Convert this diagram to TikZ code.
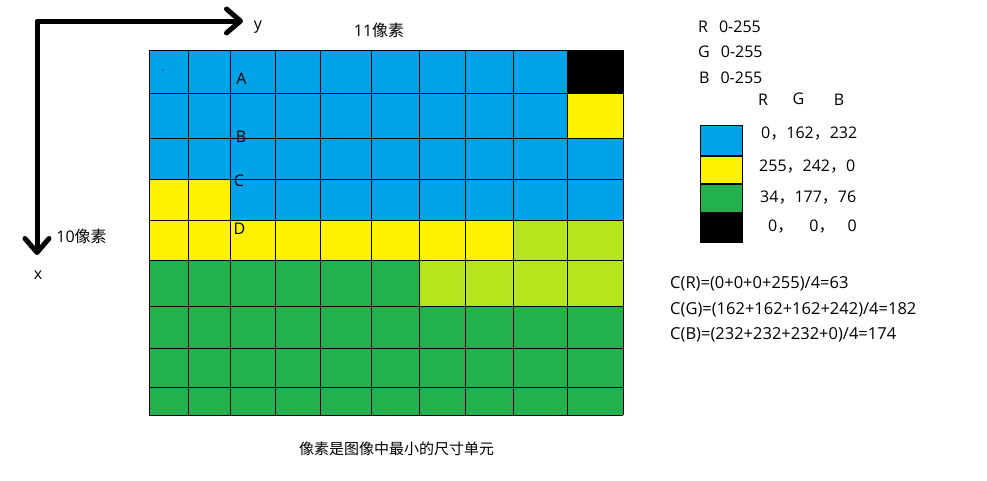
\documentclass[tikz,border=0pt]{standalone}
\usepackage{fontspec}
\setmainfont{Open Sans}
\newfontfamily\cjk{Noto Sans CJK SC}
\usetikzlibrary{arrows.meta,positioning}

\definecolor{pixblue}{RGB}{0,162,232}
\definecolor{pixyellow}{RGB}{255,242,0}
\definecolor{pixgreen}{RGB}{34,177,76}
\definecolor{pixlime}{RGB}{181,230,29}

\begin{document}
\begin{tikzpicture}[
  x=1pt, y=-1pt,
  every node/.style={inner sep=0pt, font=\fontsize{16}{18}\selectfont},
  axis/.style={line width=5pt, line join=round, line cap=round,
    {Straight Barb[length=14pt,width=24pt,round]}-{Straight Barb[length=14pt,width=24pt,round]}},
  gridline/.style={line width=0.9pt},
  swatch/.style={draw, line width=0.9pt, minimum width=42pt},
  txt/.style={anchor=west},
  formula/.style={anchor=west, font=\fontsize{16.5}{18}\selectfont}
]
\useasboundingbox (0,0) rectangle (987,480);

% Achsen
\coordinate (origin) at (37,21);
\coordinate (yend) at (243,21);
\coordinate (xend) at (37,255);
\draw[axis] (xend) -- (origin) -- (yend);
\node (ylab) at (258,27) {y};
\node (xlab) at (38,275) {x};
\node (rows) at (81.5,236.5) {10{\cjk 像素}};
\node (cols) at (379,30) {11{\cjk 像素}};

% Pixel
\fill[pixblue] (149,50) rectangle (623,220);
\fill[black] (567,50) rectangle (623,93);
\fill[pixyellow] (567,93) rectangle (623,138);
\fill[pixyellow] (149,179) rectangle (230,220);
\fill[pixyellow] (149,220) rectangle (513,260);
\fill[pixlime] (513,220) rectangle (623,260);
\fill[pixgreen] (149,260) rectangle (419,306);
\fill[pixlime] (419,260) rectangle (623,306);
\fill[pixgreen] (149,306) rectangle (623,415);
\fill (163,70) circle (0.6);

% Raster
\foreach \x in {149,188,230,275,320,371,419,465,513,567,623}
  \draw[gridline] (\x,50) -- (\x,415);
\foreach \y in {50,93,138,179,220,260,306,348,387,415}
  \draw[gridline] (149,\y) -- (623,\y);

\node (pa) at (241.5,79) {A};
\node (pb) at (241,136.5) {B};
\node (pc) at (239,180.5) {C};
\node (pd) at (239.5,228.5) {D};

% Wertebereich
\node[txt] (rng) at (698,26.5) {R\hspace{11pt}0-255};
\node[txt] (gng) at (698,51.5) {G\hspace{11pt}0-255};
\node[txt] (bng) at (699,77.5) {B\hspace{11pt}0-255};

\node (hr) at (763,100) {R};
\node (hg) at (798.5,99) {G};
\node (hb) at (839,100) {B};

% Farben
\node[swatch, fill=pixblue, minimum height=30pt, anchor=north west] (swblue) at (700,125) {};
\node[swatch, fill=pixyellow, minimum height=27pt, below=0pt of swblue] (swyellow) {};
\node[swatch, fill=pixgreen, minimum height=28pt, below=0pt of swyellow] (swgreen) {};
\node[swatch, fill=black, minimum height=29pt, below=0pt of swgreen] (swblack) {};

\node[txt] (vblue) at (761,133.5) {0{\cjk ，}162{\cjk ，}232};
\node[txt] (vyellow) at (759,166.5) {255{\cjk ，}242{\cjk ，}0};
\node[txt] (vgreen) at (760,197.5) {34{\cjk ，}177{\cjk ，}76};
\node[txt] (vblack) at (768,226.5) {0{\cjk ，}\hspace{16pt}0{\cjk ，}\hspace{13pt}0};

% Mittelwert
\node[formula] (cr) at (670,284) {C(R)=(0+0+0+255)/4=63};
\node[formula] (cg) at (670,309.5) {C(G)=(162+162+162+242)/4=182};
\node[formula] (cb) at (670,335) {C(B)=(232+232+232+0)/4=174};

\node (caption) at (396.5,448.5) {\cjk\fontsize{15}{17}\selectfont 像素是图像中最小的尺寸单元};

\end{tikzpicture}
\end{document}
